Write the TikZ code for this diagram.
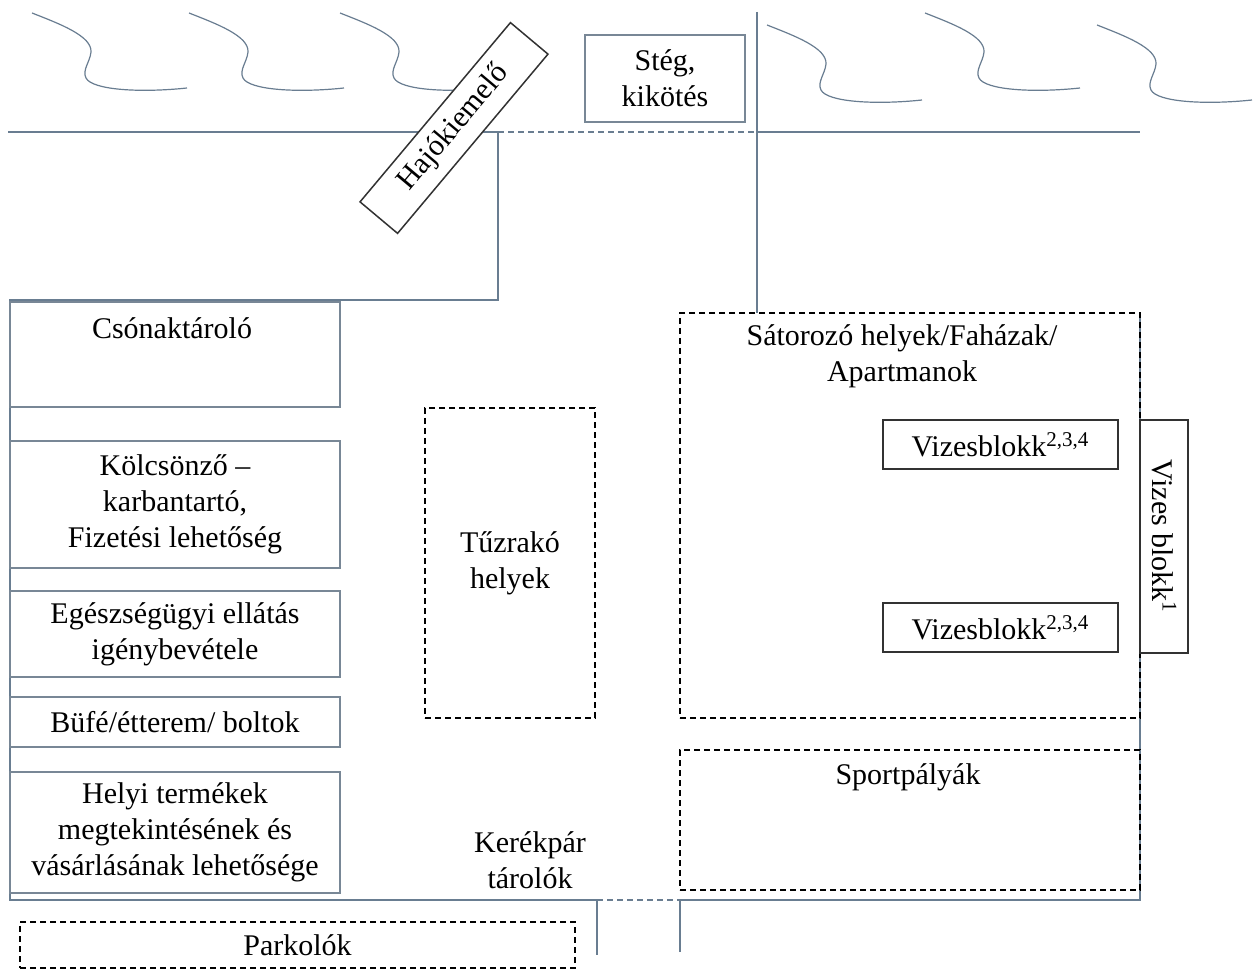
\documentclass[tikz,border=0pt]{standalone}
\usepackage{fontspec}
\setmainfont{Liberation Serif}
\begin{document}
\begin{tikzpicture}[x=0.5pt,y=-0.5pt,
  road/.style={draw=roadcol,line width=0.75pt},
  roaddash/.style={draw=roadcol,line width=0.75pt,dash pattern=on 3pt off 2pt},
  wave/.style={draw=roadcol,line width=0.6pt},
  txt/.style={font=\fontsize{15}{18}\selectfont,align=center,inner sep=0pt},
  greybox/.style={draw=boxcol,line width=0.75pt,fill=white,inner sep=0pt,align=center,font=\fontsize{15}{18}\selectfont},
  darkbox/.style={draw=darkcol,line width=0.75pt,fill=white,inner sep=0pt,align=center,font=\fontsize{15}{18}\selectfont},
  dashbox/.style={draw=black,line width=0.7pt,dash pattern=on 3pt off 2pt,inner sep=0pt,align=center,font=\fontsize{15}{18}\selectfont}]
\definecolor{roadcol}{RGB}{105,125,145}
\definecolor{boxcol}{RGB}{120,135,150}
\definecolor{darkcol}{RGB}{50,50,50}
\useasboundingbox (0,0) rectangle (1256,972);

% waves
\foreach \sx/\sy in {0/0,157/0,308/0,735/12,893/0,1065/12}{
  \draw[wave,shift={(\sx,\sy)}] (32,13) .. controls (60,24) and (92,36) .. (91,52) .. controls (90,62) and (82,70) .. (86,78) .. controls (92,90) and (140,93) .. (187,88);
}

% road coordinates
\coordinate (tl) at (8,132);
\coordinate (tj) at (498,132);
\coordinate (tk) at (757,132);
\coordinate (tr) at (1140,132);
\coordinate (vtop) at (757,12);
\coordinate (vbot) at (757,313);
\coordinate (mj) at (498,300);
\coordinate (ml) at (10,300);
\coordinate (bl) at (10,900);
\coordinate (bj) at (597,900);
\coordinate (bk) at (680,900);
\coordinate (br) at (1140,900);
\coordinate (rtop) at (1140,313);
\coordinate (bjd) at (597,955);
\coordinate (bkd) at (680,952);

\draw[road] (tl) -- (tj) -- (mj) -- (ml) -- (bl) -- (bj);
\draw[roaddash] (tj) -- (tk);
\draw[road] (tk) -- (tr);
\draw[road] (vtop) -- (vbot);
\draw[road] (bj) -- (bjd);
\draw[roaddash] (bj) -- (bk);
\draw[road] (bkd) -- (bk) -- (br) -- (rtop);

% top boxes
\node[greybox,minimum width=80pt,minimum height=43.5pt] (steg) at (665,78.5) {Stég,\\kikötés};
\node[darkbox,minimum width=117pt,minimum height=24.5pt,rotate=50] (hajo) at (454,128) {Hajókiemelő};

% left boxes
\node[greybox,minimum width=165pt,minimum height=52.5pt] (csonak) at (175,354.5) {};
\node[txt] (csonaktxt) at (172,328) {Csónaktároló};
\node[greybox,minimum width=165pt,minimum height=63.5pt] (kolcson) at (175,504.5) {Kölcsönző –\\karbantartó,\\Fizetési lehetőség};
\node[greybox,minimum width=165pt,minimum height=43pt] (egesz) at (175,634) {Egészségügyi ellátás\\igénybevétele};
\node[greybox,minimum width=165pt,minimum height=25pt] (bufe) at (175,722) {Büfé/étterem/ boltok};
\node[greybox,minimum width=165pt,minimum height=60.5pt] (helyi) at (175,832.5) {Helyi termékek\\megtekintésének és\\vásárlásának lehetősége};

% middle
\node[dashbox,minimum width=85pt,minimum height=155pt] (tuz) at (510,563) {Tűzrakó\\helyek};
\node[txt] (kerek) at (530,860) {Kerékpár\\tárolók};
\node[dashbox,minimum width=277.5pt,minimum height=23pt] (park) at (297.5,945) {Parkolók};

% right
\node[dashbox,minimum width=230pt,minimum height=202.5pt] (sator) at (910,515.5) {};
\node[txt] (satortxt) at (902,356) {Sátorozó helyek/Faházak/\\Apartmanok};
\node[darkbox,minimum width=117.5pt,minimum height=24.5pt] (viz1) at (1000.5,444.5) {Vizesblokk\textsuperscript{2,3,4}};
\node[darkbox,minimum width=117.5pt,minimum height=24.5pt] (viz2) at (1000.5,627.5) {Vizesblokk\textsuperscript{2,3,4}};
\node[darkbox,minimum width=116.5pt,minimum height=24pt,rotate=-90] (vizb) at (1164,536.5) {Vizes blokk\textsuperscript{1}};
\node[dashbox,minimum width=230pt,minimum height=70pt] (sport) at (910,820) {};
\node[txt] (sporttxt) at (908,777) {Sportpályák};
\end{tikzpicture}
\end{document}
